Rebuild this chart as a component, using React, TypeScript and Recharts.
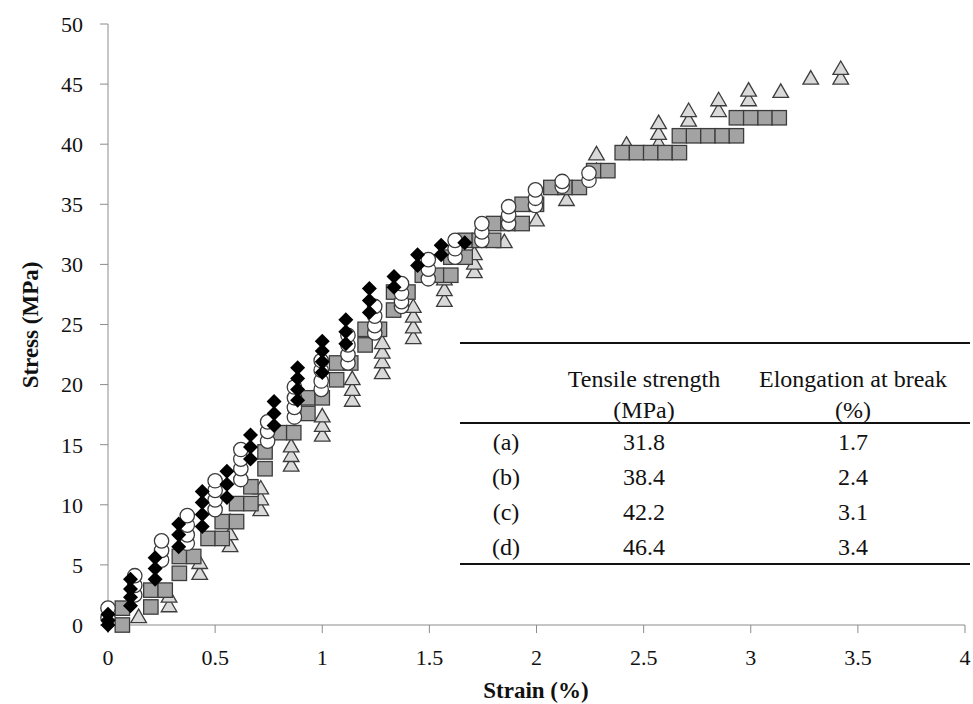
import React from 'react';
import { ScatterChart, Scatter, XAxis, YAxis, Customized } from 'recharts';

// (a) black diamonds: [strain %, stress MPa]
const seriesA: [number, number][] = [
  [0, 0], [0, 0.4], [0, 0.9],
  [0.105, 1.6], [0.105, 2.3], [0.105, 3.0], [0.105, 3.8],
  [0.22, 3.8], [0.22, 4.7], [0.22, 5.6],
  [0.33, 6.5], [0.33, 7.5], [0.33, 8.4],
  [0.44, 8.2], [0.44, 9.2], [0.44, 10.2], [0.44, 11.1],
  [0.555, 10.6], [0.555, 11.7], [0.555, 12.8],
  [0.665, 13.8], [0.665, 14.8], [0.665, 15.8],
  [0.775, 16.6], [0.775, 17.6], [0.775, 18.6],
  [0.885, 18.7], [0.885, 19.6], [0.885, 20.5], [0.885, 21.4],
  [1.0, 21.0], [1.0, 21.9], [1.0, 22.8], [1.0, 23.6],
  [1.11, 23.4], [1.11, 24.4], [1.11, 25.4],
  [1.22, 26.0], [1.22, 27.0], [1.22, 28.0],
  [1.335, 28.1], [1.335, 29.0],
  [1.445, 29.9], [1.445, 30.8],
  [1.555, 30.8], [1.555, 31.6],
  [1.665, 31.8],
];

// (b) white circles
const seriesB: [number, number][] = [
  [0, 0.6], [0, 1.4],
  [0.125, 2.5], [0.125, 3.3], [0.125, 4.1],
  [0.25, 5.4], [0.25, 6.2], [0.25, 7.0],
  [0.37, 6.8], [0.37, 7.5], [0.37, 8.3], [0.37, 9.1],
  [0.5, 9.6], [0.5, 10.4], [0.5, 11.2], [0.5, 12.0],
  [0.62, 12.1], [0.62, 13.0], [0.62, 13.8], [0.62, 14.6],
  [0.745, 15.3], [0.745, 16.1], [0.745, 16.9],
  [0.87, 17.3], [0.87, 18.1], [0.87, 18.9], [0.87, 19.8],
  [0.995, 19.6], [0.995, 20.3], [0.995, 21.2], [0.995, 22.0],
  [1.12, 21.8], [1.12, 22.5], [1.12, 23.3], [1.12, 24.1],
  [1.245, 24.3], [1.245, 24.9], [1.245, 25.7], [1.245, 26.5],
  [1.37, 26.5], [1.37, 26.9], [1.37, 27.6], [1.37, 28.4],
  [1.495, 28.8], [1.495, 29.6], [1.495, 30.4],
  [1.62, 30.6], [1.62, 31.3], [1.62, 32.0],
  [1.745, 32.0], [1.745, 32.7], [1.745, 33.4],
  [1.87, 33.4], [1.87, 34.1], [1.87, 34.8],
  [1.995, 34.9], [1.995, 35.5], [1.995, 36.2],
  [2.12, 36.5], [2.12, 36.9],
  [2.245, 37.0], [2.245, 37.6],
];

// (c) grey squares
const seriesC: [number, number][] = [
  [0.067, 0], [0.067, 1.4],
  [0.2, 1.5], [0.2, 2.9], [0.267, 2.9],
  [0.333, 4.3], [0.333, 5.7], [0.4, 5.7],
  [0.467, 7.2], [0.533, 7.2], [0.533, 8.6],
  [0.6, 8.6], [0.6, 10.1], [0.667, 10.1], [0.667, 11.5],
  [0.733, 13.0], [0.733, 14.4],
  [0.8, 16.0], [0.867, 16.0],
  [0.933, 17.6], [0.933, 18.9], [1.0, 18.9],
  [1.067, 20.4], [1.067, 21.8], [1.133, 21.8],
  [1.2, 23.3], [1.2, 24.6], [1.267, 24.6],
  [1.333, 26.2], [1.333, 27.7], [1.4, 27.7],
  [1.467, 29.1], [1.533, 29.1], [1.6, 29.1],
  [1.6, 30.6], [1.667, 30.6], [1.667, 32.0],
  [1.733, 32.0], [1.8, 32.0], [1.8, 33.4],
  [1.867, 33.4], [1.933, 33.4], [1.933, 35.0], [2.0, 35.0],
  [2.067, 36.4], [2.133, 36.4], [2.2, 36.4],
  [2.267, 37.8], [2.333, 37.8],
  [2.4, 39.3], [2.467, 39.3], [2.533, 39.3], [2.6, 39.3], [2.667, 39.3],
  [2.667, 40.7], [2.733, 40.7], [2.8, 40.7], [2.867, 40.7], [2.933, 40.7],
  [2.933, 42.2], [3.0, 42.2], [3.067, 42.2], [3.133, 42.2],
];

// (d) light grey triangles
const seriesD: [number, number][] = [
  [0.143, 0.7],
  [0.285, 1.6], [0.285, 2.4],
  [0.428, 4.3], [0.428, 5.2],
  [0.57, 6.6], [0.57, 7.6], [0.57, 8.6],
  [0.713, 9.6], [0.713, 10.5], [0.713, 11.4],
  [0.855, 13.3], [0.855, 14.1], [0.855, 14.9],
  [1.0, 15.8], [1.0, 16.6], [1.0, 17.4],
  [1.14, 18.7], [1.14, 19.6], [1.14, 20.5],
  [1.28, 21.0], [1.28, 21.9], [1.28, 22.7], [1.28, 23.5],
  [1.425, 23.9], [1.425, 24.8], [1.425, 25.7], [1.425, 26.5],
  [1.57, 27.0], [1.57, 27.9], [1.57, 28.8],
  [1.71, 29.4], [1.71, 30.1], [1.71, 30.9],
  [1.85, 31.9],
  [2.0, 33.7],
  [2.14, 35.4], [2.14, 36.6],
  [2.28, 37.8], [2.28, 39.2],
  [2.42, 40.0],
  [2.57, 40.1], [2.57, 40.9], [2.57, 41.8],
  [2.71, 42.0], [2.71, 42.8],
  [2.85, 42.8], [2.85, 43.7],
  [2.99, 43.7], [2.99, 44.5],
  [3.14, 44.4],
  [3.28, 45.5],
  [3.42, 45.5], [3.42, 46.3],
];

const xTicks = [0, 0.5, 1, 1.5, 2, 2.5, 3, 3.5, 4];
const yTicks = [0, 5, 10, 15, 20, 25, 30, 35, 40, 45, 50];

// inset table
const rowLabels = ['(a)', '(b)', '(c)', '(d)'];
const tensileStrength = ['31.8', '38.4', '42.2', '46.4'];
const elongation = ['1.7', '2.4', '3.1', '3.4'];

const toPoints = (s: [number, number][]) => s.map(([x, y]) => ({ x, y }));

const serif = 'Liberation Serif, Times New Roman, Tinos, DejaVu Serif, serif';
const edge = '#3c3c3c';

const Diamond = (p: any) => {
  const { cx, cy } = p;
  const r = 7.5;
  return <path d={`M${cx},${cy - r}L${cx + r},${cy}L${cx},${cy + r}L${cx - r},${cy}Z`} fill="#000" />;
};
const Circle = (p: any) => (
  <circle cx={p.cx} cy={p.cy} r={7.2} fill="#fff" stroke={edge} strokeWidth={1.3} />
);
const Square = (p: any) => (
  <rect x={p.cx - 7.2} y={p.cy - 7.2} width={14.4} height={14.4} fill="#a3a3a3" stroke={edge} strokeWidth={1.3} />
);
const Triangle = (p: any) => {
  const { cx, cy } = p;
  return (
    <path d={`M${cx},${cy - 7.5}L${cx + 7.8},${cy + 6}L${cx - 7.8},${cy + 6}Z`} fill="#d9d9d9" stroke={edge} strokeWidth={1.3} />
  );
};

// inset table + axis titles (page pixel coords, chart sits at 0,0)
const Overlay = () => {
  const lx = 460, rx = 970;
  const c0 = 506, c1 = 644, c2 = 853;
  const rowY = [450, 485, 520, 555];
  const txt = { fontFamily: serif, fontSize: 24, fill: '#111', textAnchor: 'middle' as const };
  return (
    <g>
      <line x1={lx} x2={rx} y1={343} y2={343} stroke="#111" strokeWidth={2} />
      <line x1={lx} x2={rx} y1={423} y2={423} stroke="#111" strokeWidth={2} />
      <line x1={lx} x2={rx} y1={564} y2={564} stroke="#111" strokeWidth={2} />
      <text x={c1} y={387} {...txt}>Tensile strength</text>
      <text x={c1} y={418} {...txt}>(MPa)</text>
      <text x={c2} y={387} {...txt}>Elongation at break</text>
      <text x={c2} y={418} {...txt}>(%)</text>
      {rowLabels.map((r, i) => (
        <g key={r}>
          <text x={c0} y={rowY[i]} {...txt}>{r}</text>
          <text x={c1} y={rowY[i]} {...txt}>{tensileStrength[i]}</text>
          <text x={c2} y={rowY[i]} {...txt}>{elongation[i]}</text>
        </g>
      ))}
      <text x={536} y={698} fontFamily={serif} fontSize={23} fontWeight="bold" textAnchor="middle" fill="#111">
        Strain (%)
      </text>
      <text
        x={0}
        y={0}
        transform="translate(38,325) rotate(-90)"
        fontFamily={serif}
        fontSize={23}
        fontWeight="bold"
        textAnchor="middle"
        fill="#111"
      >
        Stress (MPa)
      </text>
    </g>
  );
};

const App: React.FC = () => {
  const tick = { fill: '#111', fontSize: 22, fontFamily: serif };
  return (
    <div style={{ position: 'absolute', left: 0, top: 0, width: 973, height: 704, background: '#fff' }}>
      <ScatterChart width={973} height={704} margin={{ top: 24, right: 8, bottom: 29, left: 8 }}>
        <XAxis
          type="number"
          dataKey="x"
          domain={[0, 4]}
          ticks={xTicks}
          interval={0}
          height={50}
          tickSize={8}
          tickMargin={16}
          stroke="#8c8c8c"
          tick={tick}
        />
        <YAxis
          type="number"
          dataKey="y"
          domain={[0, 50]}
          ticks={yTicks}
          interval={0}
          width={100}
          tickSize={8}
          tickMargin={17}
          stroke="#8c8c8c"
          tick={tick}
        />
        <Scatter data={toPoints(seriesD)} shape={Triangle} isAnimationActive={false} />
        <Scatter data={toPoints(seriesC)} shape={Square} isAnimationActive={false} />
        <Scatter data={toPoints(seriesB)} shape={Circle} isAnimationActive={false} />
        <Scatter data={toPoints(seriesA)} shape={Diamond} isAnimationActive={false} />
        <Customized component={Overlay} />
      </ScatterChart>
    </div>
  );
};

export default App;
